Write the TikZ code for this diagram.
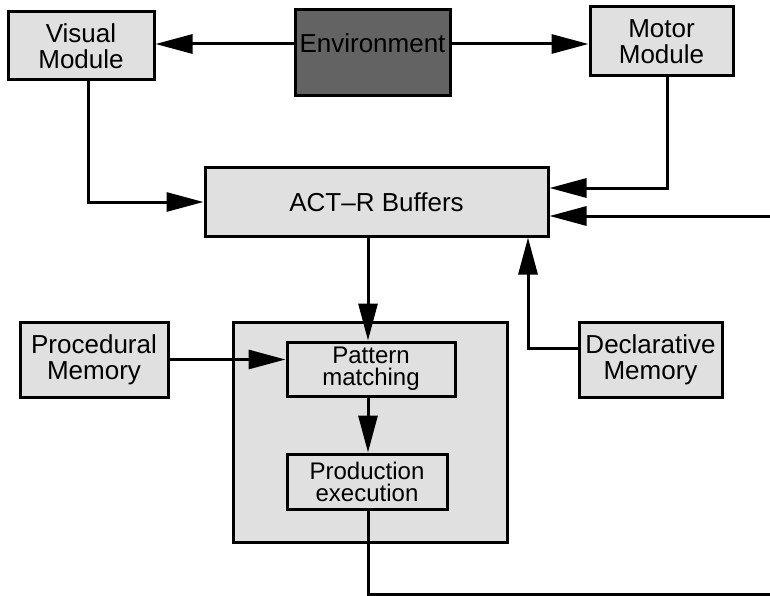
\documentclass[tikz,border=0pt]{standalone}
\usepackage{fontspec}
\setmainfont{Liberation Sans}
\usetikzlibrary{arrows.meta}
\definecolor{boxgrey}{HTML}{E0E0E0}
\definecolor{envgrey}{HTML}{636363}
\begin{document}
\begin{tikzpicture}[x=1pt,y=-1pt,
  box/.style={draw=black, line width=3pt, fill=boxgrey, inner sep=0pt, align=center,
    font=\fontsize{26}{26}\selectfont},
  tightbox/.style={box, font=\fontsize{24}{22}\selectfont},
  arr/.style={line width=3pt, -{Triangle[length=37pt,width=19pt]}},
  plain/.style={line width=3pt}]
\useasboundingbox (0,0) rectangle (770,596);
% nodes
\node[box, minimum width=146pt, minimum height=68pt] (vis) at (81,46) {Visual\\Module};
\node[box, fill=envgrey, minimum width=155pt, minimum height=86pt, text height=18pt, text depth=18pt] (env) at (372.5,53) {Environment};
\node[box, minimum width=143pt, minimum height=69pt] (mot) at (661.5,41.5) {Motor\\Module};
\node[box, minimum width=343pt, minimum height=68pt] (act) at (376.5,202) {ACT--R Buffers};
\node[box, minimum width=274pt, minimum height=220pt] (prod) at (370,432) {};
\node[box, minimum width=148pt, minimum height=75pt] (proc) at (94,359.5) {Procedural\\Memory};
\node[tightbox, minimum width=168pt, minimum height=54pt] (pat) at (371,369) {Pattern\\matching};
\node[tightbox, minimum width=160pt, minimum height=55pt] (pe) at (367,481.5) {Production\\execution};
\node[box, minimum width=143pt, minimum height=75pt] (decl) at (650.5,359.5) {Declarative\\Memory};
% helper coordinates
\coordinate (col) at (368,0);
\coordinate (dcol) at (528,0);
\coordinate (rin) at (770,216);
\coordinate (rout) at (770,594);
% connectors
\draw[arr] ([yshift=9pt]env.west) -- ([yshift=9pt]env.west -| vis.east);
\draw[arr] ([yshift=9pt]env.east) -- ([yshift=9pt]env.east -| mot.west);
\draw[arr] ([xshift=7pt]vis.south) |- (act.west);
\draw[arr] ([xshift=5.5pt]mot.south) |- ([yshift=14pt]act.east);
\draw[arr] (rin) -- (rin -| act.east);
\draw[arr] (col |- act.south) -- (col |- pat.north);
\draw[arr] (proc.east) -- (proc.east -| pat.west);
\draw[arr] (col |- pat.south) -- (col |- pe.north);
\draw[plain] (col |- pe.south) |- (rout);
\draw[arr] ([yshift=11.5pt]decl.west) -| (dcol |- act.south);
\end{tikzpicture}
\end{document}
